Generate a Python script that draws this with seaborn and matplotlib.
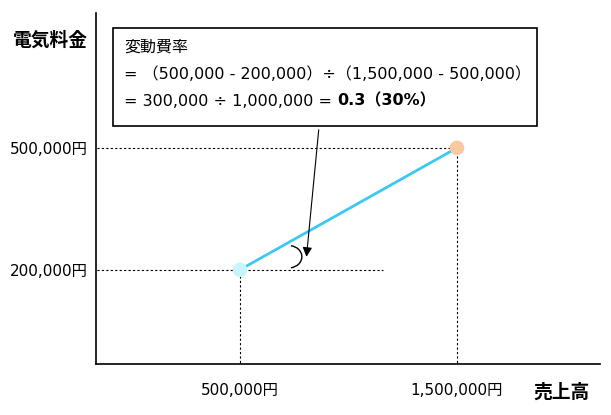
import matplotlib
matplotlib.use("Agg")
import matplotlib.pyplot as plt
from matplotlib.patches import Arc
import seaborn as sns
import pandas as pd

# data
sales = [500000, 1500000]
cost = [200000, 500000]
x_labels = ["500,000円", "1,500,000円"]
y_labels = ["200,000円", "500,000円"]
box_lines = ["変動費率",
             "= （500,000 - 200,000）÷（1,500,000 - 500,000）",
             "= 300,000 ÷ 1,000,000 = "]
box_result = "0.3（30%）"

sns.set_style("white")
plt.rcParams['font.family'] = ['DejaVu Sans', 'Noto Sans CJK JP']
plt.rcParams['text.color'] = 'black'
plt.rcParams['xtick.color'] = 'black'
plt.rcParams['ytick.color'] = 'black'

df = pd.DataFrame({"sales": sales, "cost": cost})

fig = plt.figure(figsize=(6.11, 4.15), dpi=100)
ax = fig.add_axes([96 / 611, 51 / 415, 504 / 611, 351 / 415])

# guide lines (dotted)
dot = dict(ls=(0, (2, 2)), color="black", lw=0.8)
ax.plot([-200000, sales[1]], [cost[1], cost[1]], **dot)
ax.plot([sales[1], sales[1]], [-40000, cost[1]], **dot)
ax.plot([-200000, sales[0] + 660000], [cost[0], cost[0]], **dot)
ax.plot([sales[0], sales[0]], [-40000, cost[0]], **dot)

sns.lineplot(data=df, x="sales", y="cost", ax=ax, color="#3cc8f5", lw=2)
sns.scatterplot(x=[sales[0]], y=[cost[0]], ax=ax, color="#c8f4fb", s=110, edgecolor="none", zorder=5)
sns.scatterplot(x=[sales[1]], y=[cost[1]], ax=ax, color="#f9c9a2", s=110, edgecolor="none", zorder=5)

ax.set_xlim(-163600, 2159000)
ax.set_ylim(-32000, 832000)

for s in ["top", "right"]:
    ax.spines[s].set_visible(False)
for s in ["left", "bottom"]:
    ax.spines[s].set_color("black")
    ax.spines[s].set_linewidth(1.2)

ax.set_xticks(sales)
ax.set_xticklabels(x_labels, fontsize=11)
ax.set_yticks(cost)
ax.set_yticklabels(y_labels, fontsize=11)
ax.tick_params(length=0, pad=6)
ax.tick_params(axis="x", pad=14)
ax.get_xticklabels()[1].set_x(sales[1] - 50000)
ax.set_xlabel("")
ax.set_ylabel("")

fig.text(50 / 611, 1 - 40 / 415, "電気料金", fontsize=13.5, fontweight="bold", ha="center", va="center")
fig.text(562 / 611, 1 - 392 / 415, "売上高", fontsize=13.5, fontweight="bold", ha="center", va="center")

# explanation box
fig.patches.append(plt.Rectangle((113 / 611, 1 - 126 / 415), 424 / 611, 98 / 415,
                                 transform=fig.transFigure, fill=False, ec="black", lw=1.2))
fs = 11.5
fig.text(124 / 611, 1 - 47 / 415, box_lines[0], fontsize=fs, va="center")
fig.text(124 / 611, 1 - 74 / 415, box_lines[1], fontsize=fs, va="center")
t = fig.text(124 / 611, 1 - 101 / 415, box_lines[2], fontsize=fs, va="center")
fig.canvas.draw()
bb = t.get_window_extent()
fig.text(bb.x1 / fig.bbox.width, 1 - 101 / 415, box_result, fontsize=fs, fontweight="bold", va="center")

# arrow from box to angle
ax.annotate("", xy=(sales[0] + 305000, cost[0] + 25000), xycoords="data",
            xytext=(319 / 611, 1 - 127 / 415), textcoords="figure fraction",
            arrowprops=dict(arrowstyle="-|>", color="black", lw=0.8, mutation_scale=14))

# angle mark
ax.add_patch(Arc((sales[0] + 225000, cost[0] + 32000), 120000, 55000,
                 theta1=-70, theta2=70, color="black", lw=1))

fig.savefig("out.png", dpi=100)
